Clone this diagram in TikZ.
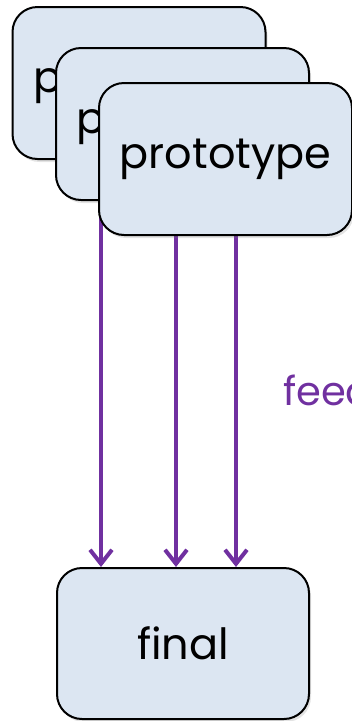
\documentclass[tikz,border=0pt]{standalone}
\usepackage{fontspec}
\setmainfont{Poppins}
\usetikzlibrary{arrows.meta,backgrounds,shadows,calc}
\definecolor{boxfill}{HTML}{DCE6F2}
\definecolor{flowpurple}{HTML}{7030A0}
\begin{document}
\begin{tikzpicture}[x=1pt,y=-1pt,
  card/.style={draw=black, line width=2pt, fill=boxfill, rounded corners=25pt,
    minimum width=253pt, minimum height=152pt, inner sep=0pt,
    font=\fontsize{43}{50}\selectfont, text=black,
    drop shadow={shadow xshift=2pt, shadow yshift=-3pt, opacity=0.22}},
  flow/.style={draw=flowpurple, line width=4pt,
    -{Straight Barb[length=14pt, width=22pt, line width=4pt]}},
  fb/.style={text=flowpurple, font=\fontsize{40}{46}\selectfont, anchor=base west, inner sep=0pt}]
\useasboundingbox (0,0) rectangle (352,721);
\node[card] (p1) at (139,83) {\raisebox{-4pt}{prototype}};
\node[card] (p2) at (182.5,124) {\raisebox{-4pt}{prototype}};
\node[card] (p3) at (225.5,159) {\raisebox{-4pt}{prototype}};
\node[card, minimum width=252pt, minimum height=151pt] (final) at (183,643.5) {final};
\coordinate (a1) at ([xshift=45pt]final.north west);
\coordinate (a2) at ([xshift=120pt]final.north west);
\coordinate (a3) at ([xshift=180pt]final.north west);
\begin{scope}[on background layer]
\draw[flow] (a1 |- p1.south) -- (a1);
\draw[flow] (a2 |- p2.south) -- (a2);
\draw[flow] (a3 |- p3.south) -- (a3);
\end{scope}
\node[fb] (feed) at (283,405) {feed};
\end{tikzpicture}
\end{document}
